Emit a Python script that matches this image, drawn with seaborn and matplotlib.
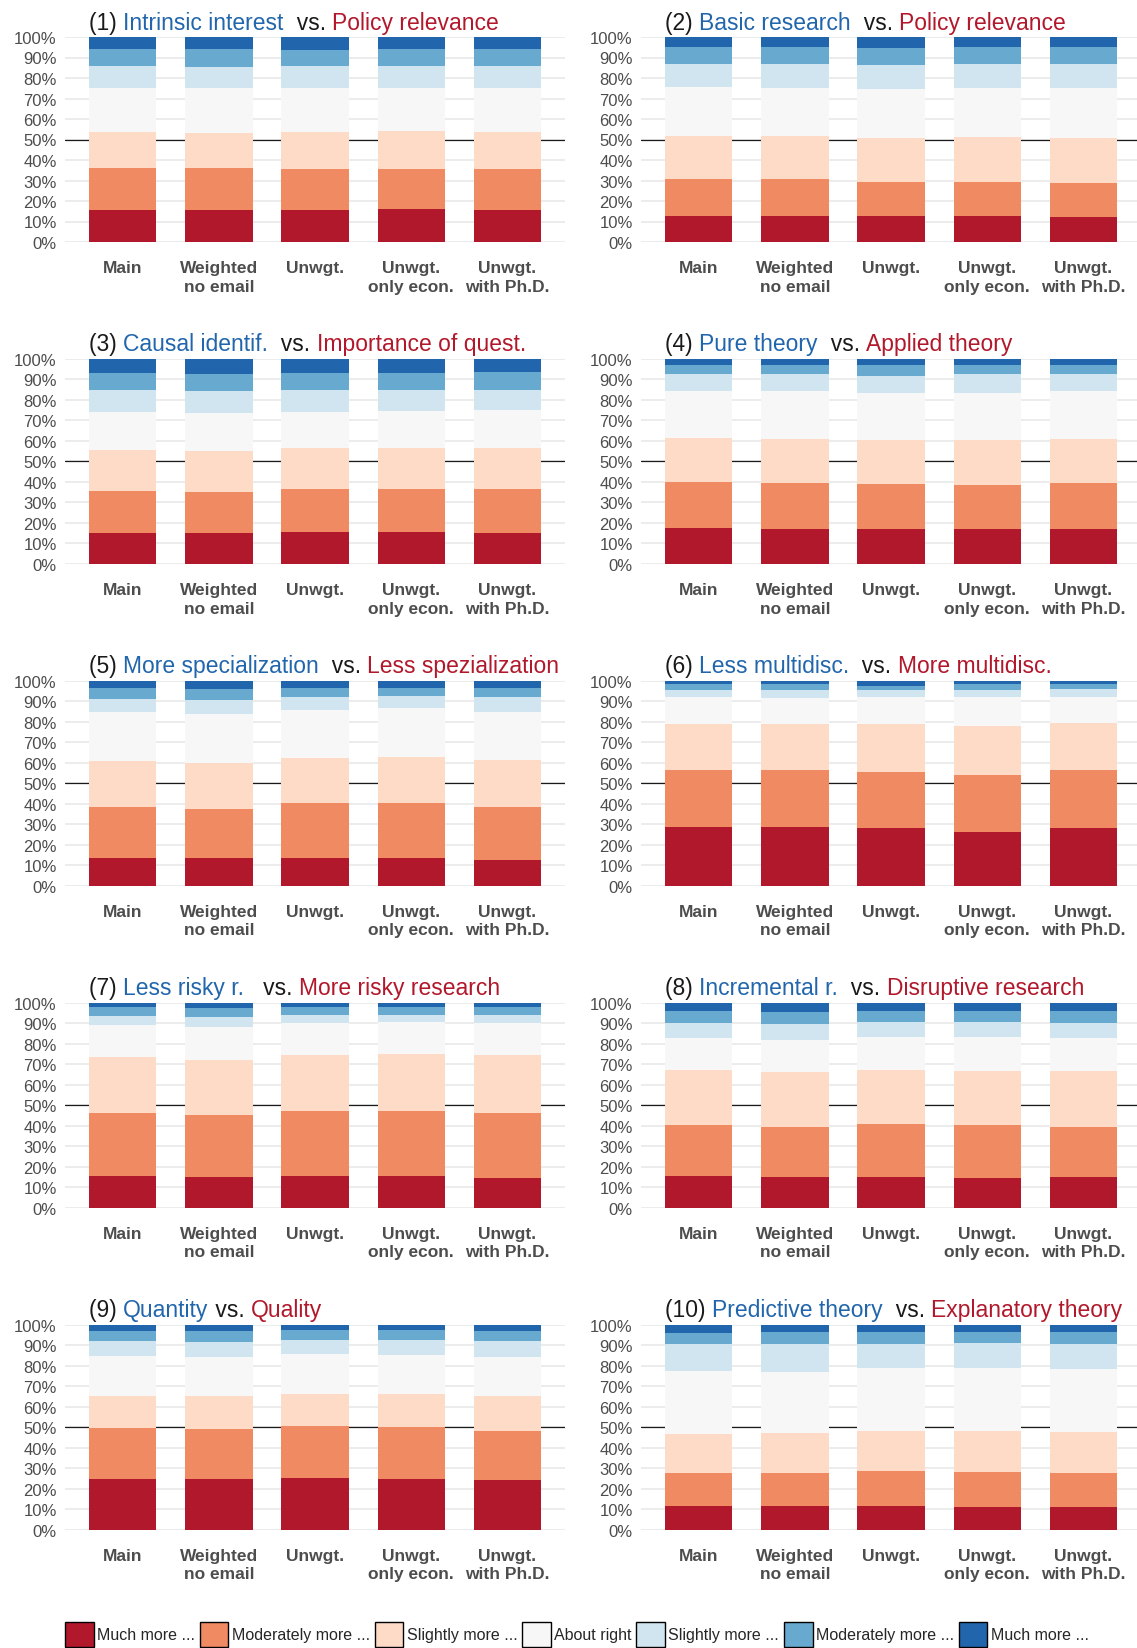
import numpy as np
import matplotlib
matplotlib.use("Agg")
import matplotlib.pyplot as plt
import matplotlib.transforms as mtransforms
from matplotlib.patches import Patch
import seaborn as sns

samples = ["Main", "Weighted\nno email", "Unwgt.", "Unwgt.\nonly econ.", "Unwgt.\nwith Ph.D."]
answers = ["Much more ...", "Moderately more ...", "Slightly more ...", "About right",
           "Slightly more ...", "Moderately more ...", "Much more ..."]
colors = ["#B2182B", "#EF8A62", "#FDDBC7", "#F7F7F7", "#D1E5F0", "#67A9CF", "#2166AC"]

# titles: number, blue side, separator, red side
numbers = ["(1) ", "(2) ", "(3) ", "(4) ", "(5) ", "(6) ", "(7) ", "(8) ", "(9) ", "(10) "]
blue_side = ["Intrinsic interest", "Basic research", "Causal identif.", "Pure theory",
             "More specialization", "Less multidisc.", "Less risky r.", "Incremental r.",
             "Quantity", "Predictive theory"]
separators = ["  vs. ", "  vs. ", "  vs. ", "  vs. ", "  vs. ", "  vs. ", "   vs. ", "  vs. ",
              " vs. ", "  vs. "]
red_side = ["Policy relevance", "Policy relevance", "Importance of quest.", "Applied theory",
            "Less spezialization", "More multidisc.", "More risky research", "Disruptive research",
            "Quality", "Explanatory theory"]

# shares in % (rows = samples, columns = answers from red to blue)
p1 = [[15.8, 20.5, 17.5, 21.5, 10.7, 8.3, 5.7],
      [15.8, 20.5, 17.0, 22.0, 10.2, 8.8, 5.7],
      [15.8, 20.0, 18.0, 21.5, 10.7, 7.8, 6.2],
      [16.3, 19.5, 18.5, 21.0, 10.7, 8.3, 5.7],
      [15.8, 20.0, 18.0, 21.5, 10.7, 8.3, 5.7]]
p2 = [[12.5, 18.0, 21.0, 24.3, 11.2, 8.3, 4.7],
      [12.5, 18.0, 21.4, 23.4, 11.7, 8.3, 4.7],
      [12.5, 17.0, 21.0, 24.3, 11.7, 8.3, 5.2],
      [12.5, 17.0, 21.5, 24.3, 11.7, 8.3, 4.7],
      [12.0, 16.6, 21.9, 24.8, 11.7, 8.3, 4.7]]
p3 = [[15.3, 20.5, 20.0, 18.5, 10.3, 8.7, 6.7],
      [15.3, 20.0, 20.0, 18.5, 10.3, 8.7, 7.2],
      [15.8, 20.5, 20.0, 18.0, 10.3, 8.7, 6.7],
      [15.8, 20.9, 20.0, 18.1, 10.2, 8.3, 6.7],
      [15.3, 21.0, 20.4, 18.6, 9.7, 8.8, 6.2]]
p4 = [[17.5, 22.4, 21.4, 22.8, 8.3, 4.8, 2.8],
      [17.0, 22.4, 21.4, 23.3, 8.3, 4.8, 2.8],
      [17.0, 21.9, 21.4, 23.3, 8.3, 5.3, 2.8],
      [17.0, 21.4, 21.9, 23.3, 8.8, 4.8, 2.8],
      [17.0, 22.4, 21.4, 23.3, 8.3, 4.8, 2.8]]
p5 = [[13.8, 24.4, 22.5, 23.9, 6.3, 5.4, 3.7],
      [13.8, 23.9, 22.0, 23.9, 6.8, 5.4, 4.2],
      [13.8, 26.4, 21.9, 23.9, 5.9, 4.8, 3.3],
      [13.8, 26.4, 22.4, 23.9, 5.9, 4.3, 3.3],
      [12.8, 25.4, 23.4, 23.4, 6.9, 4.8, 3.3]]
p6 = [[28.6, 27.7, 22.4, 13.2, 3.4, 2.9, 1.8],
      [28.6, 27.7, 22.4, 12.7, 3.9, 2.9, 1.8],
      [28.1, 27.3, 23.3, 13.2, 3.4, 2.4, 2.3],
      [26.1, 27.8, 23.9, 14.1, 3.4, 2.9, 1.8],
      [28.1, 28.2, 22.9, 12.7, 3.9, 2.4, 1.8]]
p7 = [[15.7, 30.7, 27.2, 15.5, 4.4, 4.4, 2.1],
      [15.2, 30.2, 26.7, 16.1, 4.8, 4.4, 2.6],
      [15.7, 31.6, 27.3, 15.5, 3.9, 3.9, 2.1],
      [15.7, 31.6, 27.7, 15.6, 3.4, 3.9, 2.1],
      [14.7, 31.7, 28.2, 15.5, 3.9, 3.9, 2.1]]
p8 = [[15.3, 24.8, 27.3, 15.6, 7.3, 5.8, 3.9],
      [14.8, 24.8, 26.8, 15.6, 7.8, 5.8, 4.4],
      [14.8, 25.8, 26.8, 16.0, 7.3, 5.4, 3.9],
      [14.3, 25.8, 26.8, 16.5, 7.3, 5.4, 3.9],
      [14.8, 24.8, 27.3, 16.1, 7.3, 5.8, 3.9]]
p9 = [[24.9, 24.9, 15.6, 19.5, 7.3, 4.9, 2.9],
      [24.9, 24.4, 16.1, 19.0, 7.3, 5.4, 2.9],
      [25.4, 25.3, 15.6, 19.6, 6.8, 4.9, 2.4],
      [24.9, 25.3, 16.1, 19.1, 7.3, 4.9, 2.4],
      [24.4, 23.9, 17.1, 19.0, 7.8, 4.9, 2.9]]
p10 = [[11.7, 16.1, 19.0, 30.6, 13.2, 5.4, 4.0],
       [11.7, 16.1, 19.4, 29.8, 13.6, 5.8, 3.6],
       [11.7, 17.0, 19.5, 30.7, 11.7, 5.8, 3.6],
       [11.2, 17.0, 20.0, 30.7, 12.2, 5.3, 3.6],
       [11.2, 16.6, 19.9, 30.7, 12.2, 5.8, 3.6]]
panels = [p1, p2, p3, p4, p5, p6, p7, p8, p9, p10]

sns.set_style("white")
plt.rcParams['font.family'] = ['Liberation Sans', 'DejaVu Sans']

W, H = 1137, 1649
fig = plt.figure(figsize=(W / 100, H / 100), dpi=100)

for i, shares in enumerate(panels):
    row, col = divmod(i, 2)
    left = 65 if col == 0 else 641
    top = 38 + 321.9 * row
    ax = fig.add_axes([left / W, 1 - (top + 205) / H, 500 / W, 205 / H])

    # cumulative tops, drawn from the top layer down so that each bar covers the next
    cum = np.cumsum(np.array(shares), axis=1)
    for k in range(6, -1, -1):
        sns.barplot(x=samples, y=cum[:, k], color=colors[k], width=0.7, saturation=1,
                    linewidth=0, errorbar=None, ax=ax)
    ax.axhline(50, color="#1A1A1A", lw=0.9, zorder=0.8)

    ax.set_xlim(-0.6, 4.6)
    ax.set_ylim(0, 100)
    ax.set_yticks(range(0, 101, 10))
    ax.set_yticklabels([f"{v}%" for v in range(0, 101, 10)], fontsize=12, color="#4D4D4D")
    ax.set_xticks(range(5))
    ax.set_xticklabels(samples, fontsize=12.5, fontweight="bold", color="#4D4D4D",
                       linespacing=1.3)
    ax.tick_params(axis="y", length=0, pad=6)
    ax.tick_params(axis="x", length=0, pad=13)
    ax.yaxis.grid(True, color="#EBEBEB", lw=1.3)
    ax.set_axisbelow(True)
    ax.set_xlabel("")
    ax.set_ylabel("")
    sns.despine(ax=ax, left=True, bottom=True)

    # title in pieces: black number, blue side, black "vs.", red side
    trans = mtransforms.blended_transform_factory(ax.transData, ax.transAxes)
    t = ax.text(-0.35, 1.041, numbers[i], transform=trans, fontsize=16.5,
                color="#1A1A1A", va="baseline")
    for s, c in [(blue_side[i], "#2166AC"), (separators[i], "#1A1A1A"), (red_side[i], "#B2182B")]:
        t = ax.annotate(s, xy=(1, 0), xycoords=t, va="bottom", ha="left",
                        fontsize=16.5, color=c)

handles = [Patch(facecolor=c, edgecolor="black", linewidth=1) for c in colors]
fig.legend(handles, answers, loc="upper left", bbox_to_anchor=(65 / W, 1 - 1623 / H),
           ncol=7, frameon=False, fontsize=11.5, handlelength=1.8, handleheight=2.0,
           handletextpad=0.2, columnspacing=0.3, borderpad=0, borderaxespad=0)

fig.savefig("out.png", dpi=100)
